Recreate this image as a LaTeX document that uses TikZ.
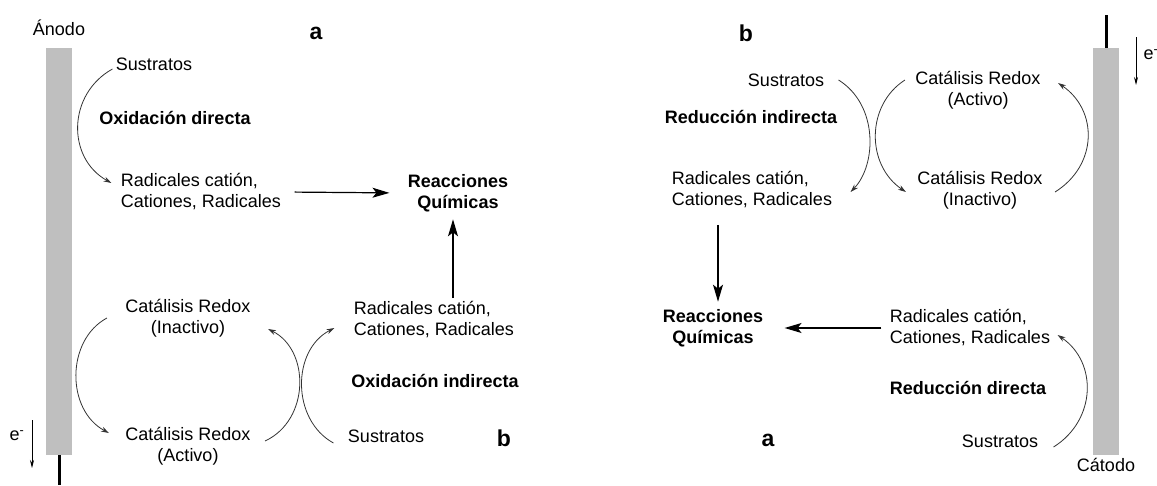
\documentclass[tikz,border=0pt]{standalone}
\usepackage{fontspec}
\setmainfont{Liberation Sans}
\usetikzlibrary{arrows.meta, positioning}

\begin{document}
\begin{tikzpicture}[
    x=1pt, y=-1pt,
    >=Stealth,
    font=\fontsize{18}{21}\selectfont,
    lbl/.style={align=center},
    species/.style={align=left},
    process/.style={font=\fontsize{18}{21}\selectfont\bfseries, align=center},
    panel/.style={font=\fontsize{23}{26}\selectfont\bfseries},
    electrode/.style={fill=gray!50, draw=none, minimum width=26pt, minimum height=407pt, inner sep=0pt},
    wire/.style={line width=3pt},
    loop/.style={draw=black!80, line width=0.8pt, -{Stealth[length=8pt,width=5pt]}},
    flow/.style={line width=1.2pt, -{Stealth[length=17pt,width=10pt,inset=4pt]}},
    eflow/.style={line width=0.8pt, -{Stealth[length=8pt,width=4pt]}}
  ]
  \useasboundingbox (0,0) rectangle (1157,485);

  % anode side
  \node[electrode] (anode) at (59,251.5) {};
  \node[above=9pt of anode] (anodelbl) {Ánodo};
  \coordinate (anodewire) at (59,485);
  \draw[wire] (anode.south) -- (anodewire);
  \node (eA) at (17,436) {e\textsuperscript{-}};
  \coordinate (etopA) at (32,420);
  \coordinate (ebotA) at (32,468);
  \draw[eflow] (etopA) -- (ebotA);

  \node[panel] (pa1) at (316,33) {a};
  \node (sus1) at (154,64) {Sustratos};
  \node[process] (oxd) at (175,118) {Oxidación directa};
  \node[species] (rad1) at (201,192) {Radicales catión,\\Cationes, Radicales};
  \node[process] (rq1) at (458,193) {Reacciones\\Químicas};
  \node[species] (rad2) at (434,320) {Radicales catión,\\Cationes, Radicales};
  \node[process] (oxi) at (435,381) {Oxidación indirecta};
  \node (sus2) at (386,436) {Sustratos};
  \node[panel] (pb1) at (504,438) {b};
  \node[lbl] (cat1) at (188,318) {Catálisis Redox\\(Inactivo)};
  \node[lbl] (cat2) at (188,446) {Catálisis Redox\\(Activo)};

  \draw[loop] ([yshift=-5pt]sus1.west) .. controls +(-45,25) and +(-45,-25) .. ([xshift=-6pt,yshift=9pt]rad1.west);
  \draw[flow, shorten <=10pt, shorten >=15pt] (rad1.east) -- (rq1.west);
  \draw[flow, shorten >=4pt] ([xshift=-5pt]rq1.south |- rad2.north) -- ([xshift=-5pt]rq1.south);
  \draw[loop] ([xshift=-11pt,yshift=-7pt]sus2.west) .. controls +(-42,-23) and +(-43,22) .. ([xshift=-16pt,yshift=-8pt]rad2.west);
  \draw[loop] ([xshift=-15pt]cat1.west) .. controls +(-41,22) and +(-43,-23) .. ([xshift=-13pt,yshift=13pt]cat2.west);
  \draw[loop] ([xshift=11pt,yshift=5pt]cat2.east) .. controls +(45,-21) and +(42,21) .. ([xshift=14pt,yshift=-11pt]cat1.east);

  % cathode side
  \node[electrode] (cathode) at (1106,251.5) {};
  \node[below=0pt of cathode] (cathodelbl) {Cátodo};
  \coordinate (cathodewire) at (1106,15);
  \draw[wire] (cathode.north) -- (cathodewire);
  \node (eC) at (1151,55) {e\textsuperscript{-}};
  \coordinate (etopC) at (1136,37);
  \coordinate (ebotC) at (1136,85);
  \draw[eflow] (etopC) -- (ebotC);

  \node[panel] (pb2) at (746,33) {b};
  \node (sus3) at (786,80) {Sustratos};
  \node[process] (rdi) at (751,117) {Reducción indirecta};
  \node[species] (rad3) at (752,190) {Radicales catión,\\Cationes, Radicales};
  \node[lbl] (cat3) at (978,90) {Catálisis Redox\\(Activo)};
  \node[lbl] (cat4) at (980,190) {Catálisis Redox\\(Inactivo)};
  \node[process] (rq2) at (713,328) {Reacciones\\Químicas};
  \node[species] (rad4) at (970,328) {Radicales catión,\\Cationes, Radicales};
  \node[process] (rdd) at (968,388) {Reducción directa};
  \node (sus4) at (1000,441) {Sustratos};
  \node[panel] (pa2) at (768,440) {a};

  \draw[loop] ([xshift=11pt]sus3.east) .. controls +(40,25) and +(26,-27) .. ([xshift=15pt,yshift=-2pt]rad3.east);
  \draw[loop] ([xshift=-7pt,yshift=10pt]cat3.west) .. controls +(-39,25) and +(-40,-27) .. ([xshift=-8pt,yshift=-2pt]cat4.west);
  \draw[loop] ([xshift=9pt,yshift=-2pt]cat4.east) .. controls +(43,-27) and +(40,27) .. ([xshift=14pt,yshift=7pt]cat3.east);
  \draw[flow, shorten <=13pt, shorten >=4pt] ([xshift=5pt]rq2.north |- rad3.south) -- ([xshift=5pt]rq2.north);
  \draw[flow, shorten <=5pt, shorten >=18pt] (rad4.west) -- (rq2.east);
  \draw[loop] ([xshift=12pt,yshift=-6pt]sus4.east) .. controls +(43,-27) and +(40,27) .. ([xshift=4pt,yshift=-7pt]rad4.east);
\end{tikzpicture}
\end{document}
